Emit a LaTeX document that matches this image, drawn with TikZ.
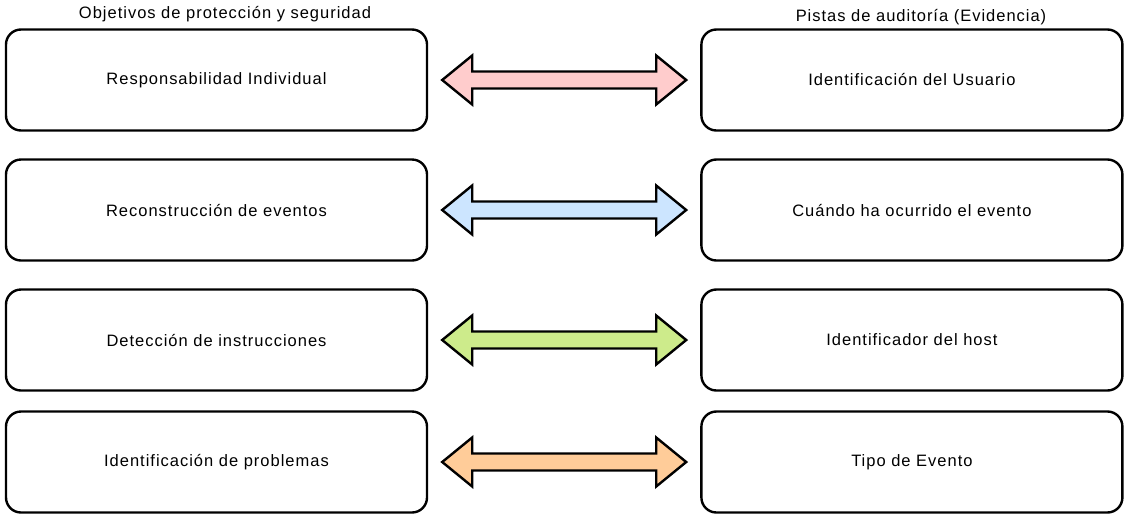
\documentclass[tikz,border=0pt]{standalone}
\usepackage{fontspec}
\setmainfont[LetterSpace=6]{Liberation Sans}
\usepackage{tikz}
\usepackage{xcolor}
\usetikzlibrary{calc,positioning}
\definecolor{arrpink}{HTML}{FFCCCC}
\definecolor{arrblue}{HTML}{CCE5FF}
\definecolor{arrgreen}{HTML}{CDEB8B}
\definecolor{arrorange}{HTML}{FFCC99}
% fat double arrow between two boxes
\newcommand{\biarrow}[3]{%
  \coordinate (#1-a) at ($(#1.east)+(14,0)$);
  \coordinate (#2-b) at ($(#2.west)+(-14,0)$);
  \draw[fatarrow,fill=#3] (#1-a) -- ++(30,24.5) -- ++(0,-16) -- ($(#2-b)+(-30,8.5)$)
    -- ++(0,16) -- (#2-b) -- ++(-30,-24.5) -- ++(0,16) -- ($(#1-a)+(30,-8.5)$)
    -- ++(0,-16) -- cycle;}

\begin{document}
\begin{tikzpicture}[x=1pt,y=-1pt, font=\fontsize{16.5}{19}\selectfont,
        box/.style={rectangle,rounded corners=15pt,draw=black,line width=2.4pt,
          minimum width=421pt,minimum height=101pt,align=center},
        fatarrow/.style={draw=black,line width=2.4pt,line join=miter},
        heading/.style={inner sep=0pt}]
  \useasboundingbox (0,0) rectangle (1131,528);
  \node[heading] (lt) at (225,14) {Objetivos de protección y seguridad};
  \node[heading] (rt) at (921,17) {Pistas de auditoría (Evidencia)};

  \node[box] (l1) at (216.5,80) {Responsabilidad Individual};
  \node[box] (l2) at (216.5,210) {Reconstrucción de eventos};
  \node[box] (l3) at (216.5,340) {Detección de instrucciones};
  \node[box] (l4) at (216.5,462) {Identificación de problemas};

  \node[box,right=272pt of l1] (r1) {Identificación del Usuario};
  \node[box,right=272pt of l2] (r2) {Cuándo ha ocurrido el evento};
  \node[box,right=272pt of l3] (r3) {Identificador del host};
  \node[box,right=272pt of l4] (r4) {Tipo de Evento};

  \biarrow{l1}{r1}{arrpink}
  \biarrow{l2}{r2}{arrblue}
  \biarrow{l3}{r3}{arrgreen}
  \biarrow{l4}{r4}{arrorange}
\end{tikzpicture}
\end{document}
